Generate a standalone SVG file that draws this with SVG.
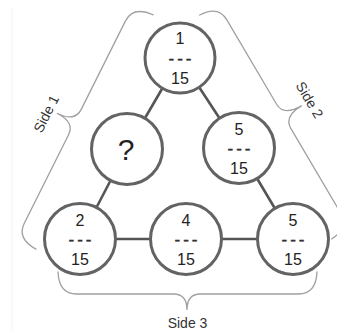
<svg xmlns="http://www.w3.org/2000/svg" width="337" height="331" viewBox="0 0 337 331">
  <defs>
    <style>
      .node circle { fill: #ffffff; stroke: #636363; stroke-width: 3; }
      .num { font-family: "Liberation Sans", Arial, sans-serif; font-size: 16px; fill: #222222; text-anchor: middle; }
      .dash { font-family: "Liberation Sans", Arial, sans-serif; font-size: 17px; fill: #333333; text-anchor: middle; letter-spacing: 3px; stroke: #333333; stroke-width: 0.4; }
      .q { font-family: "Liberation Sans", Arial, sans-serif; font-size: 30px; fill: #222222; text-anchor: middle; }
      .edge { stroke: #555555; stroke-width: 2.6; fill: none; }
      .brace { stroke: #a0a0a0; stroke-width: 1.3; fill: none; stroke-linecap: round; }
      .label { font-family: "Liberation Sans", Arial, sans-serif; font-size: 14px; fill: #333333; text-anchor: middle; }
    </style>
  </defs>

  <rect x="0" y="0" width="337" height="331" fill="#ffffff"/>
  <line x1="12" y1="8" x2="12" y2="331" stroke="#f3f3f3" stroke-width="1"/>

  <!-- connectors between the circles -->
  <g id="connectors">
    <line class="edge" x1="180" y1="58" x2="127" y2="149"/>
    <line class="edge" x1="127" y1="149" x2="80" y2="239"/>
    <line class="edge" x1="180" y1="58" x2="239" y2="148"/>
    <line class="edge" x1="239" y1="148" x2="293" y2="239"/>
    <line class="edge" x1="80" y1="239" x2="186" y2="239"/>
    <line class="edge" x1="186" y1="239" x2="293" y2="239"/>
  </g>

  <!-- braces marking the three sides -->
  <g id="side1" transform="translate(94.5,132) rotate(-63.43)">
    <path class="brace" d="M-131,0 Q-130,-22 -113,-22 L-14,-22 Q0,-22 0,-42 Q0,-22 14,-22 L113,-22 Q130,-22 131,0"/>
    <text class="label" x="-5.3" y="-46.5">Side 1</text>
  </g>
  <g id="side2" transform="translate(265.6,127) rotate(59.5)">
    <path class="brace" d="M-130,0 Q-129,-21 -112,-21 L-14,-21 Q0,-21 0,-42 Q0,-21 14,-21 L112,-21 Q129,-21 130,0"/>
    <text class="label" x="-1" y="-46.7">Side 2</text>
  </g>
  <g id="side3" transform="translate(187.5,272)">
    <path class="brace" d="M-129.5,0 Q-128.5,22 -111,22 L-14,22 Q-0.5,22 -0.5,38 Q-0.5,22 13,22 L111,22 Q128.5,22 129.5,0"/>
    <text class="label" x="0" y="56">Side 3</text>
  </g>

  <!-- circle nodes -->
  <g id="node-top" class="node">
    <circle cx="180" cy="58" r="35"/>
    <text class="num" x="180" y="43.5">1</text>
    <text class="dash" x="181.5" y="63.5">---</text>
    <text class="num" x="180" y="83.5">15</text>
  </g>
  <g id="node-left-mid" class="node">
    <circle cx="127" cy="149" r="35.5"/>
    <text class="q" x="126" y="160">?</text>
  </g>
  <g id="node-right-mid" class="node">
    <circle cx="239" cy="148" r="35.5"/>
    <text class="num" x="239" y="135">5</text>
    <text class="dash" x="240.5" y="153.5">---</text>
    <text class="num" x="239" y="174">15</text>
  </g>
  <g id="node-bottom-left" class="node">
    <circle cx="80" cy="239" r="35.5"/>
    <text class="num" x="80" y="225.5">2</text>
    <text class="dash" x="81.5" y="244.5">---</text>
    <text class="num" x="80" y="265">15</text>
  </g>
  <g id="node-bottom-mid" class="node">
    <circle cx="186" cy="239" r="35.5"/>
    <text class="num" x="186" y="225.5">4</text>
    <text class="dash" x="187.5" y="244.5">---</text>
    <text class="num" x="186" y="265">15</text>
  </g>
  <g id="node-bottom-right" class="node">
    <circle cx="293" cy="239" r="35.5"/>
    <text class="num" x="293" y="225.5">5</text>
    <text class="dash" x="294.5" y="244.5">---</text>
    <text class="num" x="293" y="265">15</text>
  </g>
</svg>
